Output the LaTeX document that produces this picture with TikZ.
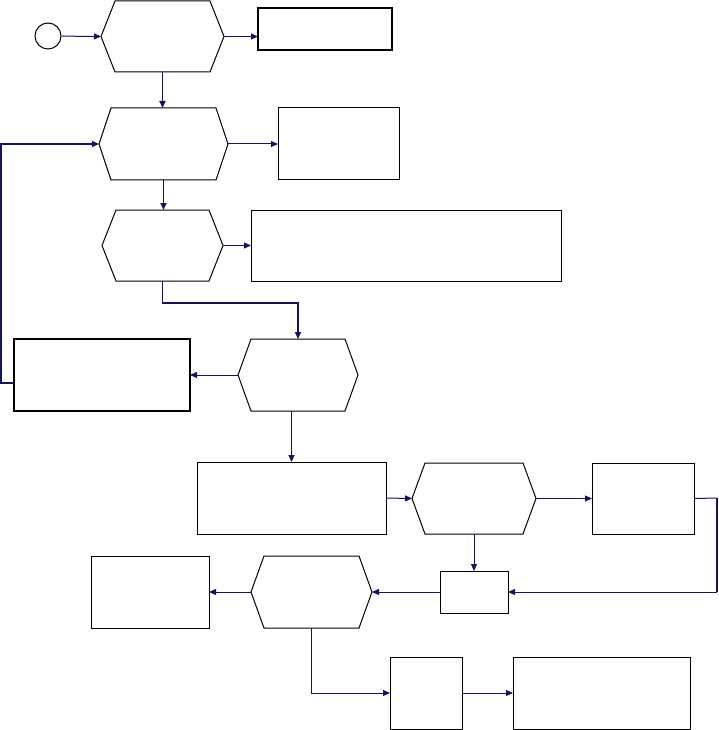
\documentclass[tikz,border=0pt]{standalone}
\usetikzlibrary{arrows.meta}
\definecolor{navy}{RGB}{20,20,100}
\tikzset{
  box/.style={draw=black, line width=1pt, inner sep=0pt, outer sep=0pt, fill=white},
  hexbase/.style={draw=none, inner sep=0pt, outer sep=0pt},
  hexline/.style={draw=black, line width=1pt, line join=miter},
  arr/.style={draw=navy, line width=1pt, -{Triangle[length=7pt,width=6pt]}},
  tarr/.style={draw=navy, line width=1.6pt, -{Triangle[length=7pt,width=6pt]}},
}
\newcommand\hexnode[6]{%
  \node[hexbase, minimum width=#4pt, minimum height=#5pt] (#1) at (#2,#3) {};
  \draw[hexline] ([xshift=#6pt]#1.north west) -- ([xshift=-#6pt]#1.north east) -- (#1.east)
    -- ([xshift=-#6pt]#1.south east) -- ([xshift=#6pt]#1.south west) -- (#1.west) -- cycle;}
\newcommand\boxnode[6][]{%
  \node[box, minimum width=#5pt, minimum height=#6pt, #1] (#2) at (#3,#4) {};}
\begin{document}
\begin{tikzpicture}[x=1pt,y=-1pt]
\fill[white] (0,0) rectangle (718,730);
\useasboundingbox (0,0) rectangle (718,730);
% start
\node[draw=black, line width=1pt, circle, minimum size=26pt, inner sep=0pt] (c) at (48,36) {};
% hexagons
\hexnode{H1}{162.5}{36.5}{123}{71}{14}
\hexnode{H2}{163.5}{144}{129}{72}{12}
\hexnode{H3}{162.5}{245.5}{121}{71}{14}
\hexnode{H4}{298}{375}{120}{72}{13}
\hexnode{H5}{474}{498.5}{124}{71}{13}
\hexnode{H6}{311.5}{592}{121}{72}{13}
% boxes
\boxnode[line width=1.6pt]{R1}{325}{29}{134}{42}
\boxnode{R2}{338.5}{144}{121}{72}
\boxnode{R3}{406}{245.5}{310}{71}
\boxnode[line width=1.6pt]{R4}{102}{375}{176}{72}
\boxnode{R5}{291.5}{498}{189}{72}
\boxnode{R6}{643}{498.5}{102}{71}
\boxnode{R7}{474}{592}{68}{42}
\boxnode{R8}{150}{592}{118}{72}
\boxnode{R9}{426}{693}{72}{72}
\boxnode{R10}{601.5}{693}{177}{72}
\coordinate (fb) at (1,383);
\coordinate (rb) at (717,498);
% connectors
\draw[arr] (c) -- (H1.west);
\draw[arr] (H1.east) -- (H1.east -| R1.west);
\draw[tarr] (H1.south) -- (H1.south |- H2.north);
\draw[arr] (H2.east) -- (R2.west);
\draw[arr, line width=1.3pt] ([yshift=-8pt]R4.west) -- (fb) |- (H2.west);
\draw[tarr] (H2.south) -- (H2.south |- H3.north);
\draw[arr] (H3.east) -- (R3.west);
\draw[tarr] (H3.south) -- ++(0,22) -| (H4.north);
\draw[arr] (H4.west) -- (R4.east);
\draw[arr] (R5.north |- H4.south) -- (R5.north);
\draw[arr] (R5.east) -- (H5.west);
\draw[arr] (H5.east) -- (R6.west);
\draw[arr] (H5.south) -- (R7.north);
\draw[draw=navy, line width=1pt] (R6.east) -- (rb);
\draw[draw=navy, line width=1.8pt] (rb) -- (rb |- R7.east);
\draw[arr] (rb |- R7.east) -- (R7.east);
\draw[arr] (R7.west) -- (H6.east);
\draw[arr] (H6.west) -- (R8.east);
\draw[arr] (H6.south) |- (R9.west);
\draw[arr] (R9.east) -- (R10.west);
\end{tikzpicture}
\end{document}
